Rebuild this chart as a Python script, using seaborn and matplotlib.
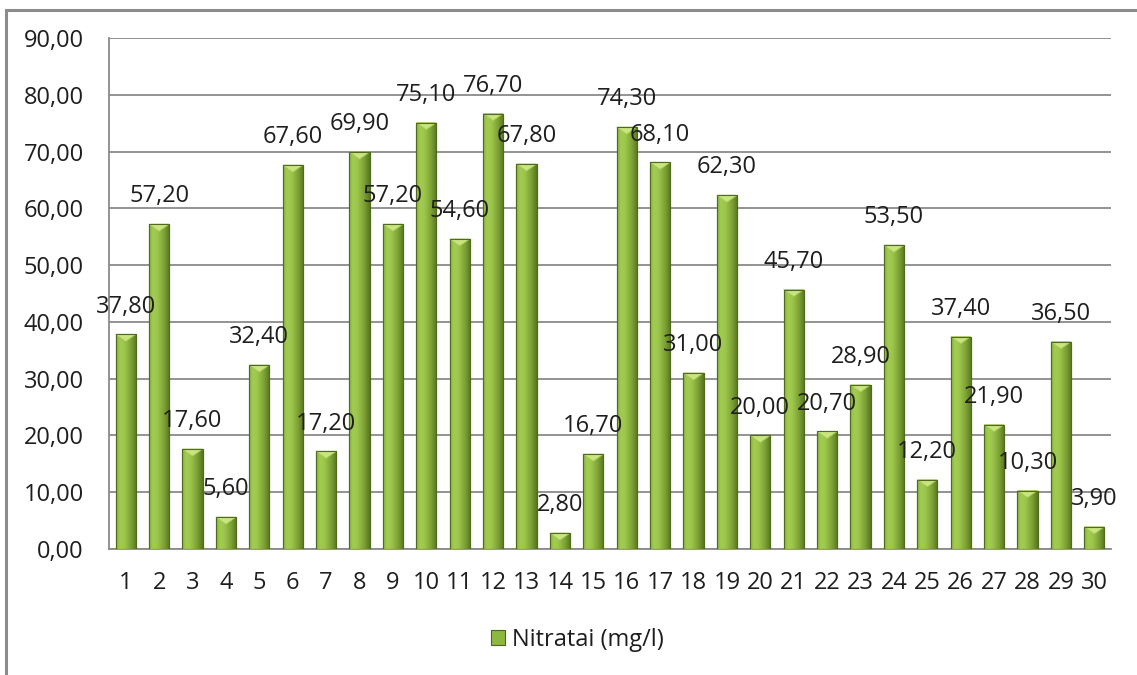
import numpy as np
import pandas as pd
import seaborn as sns
import matplotlib
matplotlib.use("Agg")
import matplotlib.pyplot as plt
from matplotlib.colors import LinearSegmentedColormap
from matplotlib.patches import Rectangle, Polygon
from matplotlib.ticker import FuncFormatter, MultipleLocator

# Sample numbers and measured nitrate concentrations
samples = [str(i) for i in range(1, 31)]
nitrates = [37.8, 57.2, 17.6, 5.6, 32.4, 67.6, 17.2, 69.9, 57.2, 75.1,
            54.6, 76.7, 67.8, 2.8, 16.7, 74.3, 68.1, 31.0, 62.3, 20.0,
            45.7, 20.7, 28.9, 53.5, 12.2, 37.4, 21.9, 10.3, 36.5, 3.9]
series_name = "Nitratai (mg/l)"
y_ticks = list(range(0, 91, 10))

df = pd.DataFrame({"sample": samples, "value": nitrates})

sns.set_theme(style="white")
plt.rcParams["font.family"] = ["Open Sans", "DejaVu Sans"]
text_color = "#1e1e1e"
grid_color = "#8a8a8a"

fig = plt.figure(figsize=(11.37, 6.75), dpi=100)
ax = fig.add_axes([109 / 1137, 1 - 549 / 675, 1002 / 1137, 511 / 675])

sns.barplot(data=df, x="sample", y="value", color="#8DB83F", width=0.6,
            saturation=1, edgecolor="#4F6228", linewidth=0.8, ax=ax, zorder=3)

# Bevelled gradient fill for each bar
bar_cmap = LinearSegmentedColormap.from_list(
    "bevel", [(0.0, "#86AE3A"), (0.18, "#A3CD52"), (0.4, "#9DC64C"),
              (0.75, "#7A9E33"), (1.0, "#56761F")])
grad = np.linspace(0, 1, 64)[None, :]
px_per_unit = 511 / 90.0
cap_h = 7 / px_per_unit
for patch in list(ax.patches):
    x0 = patch.get_x()
    w = patch.get_width()
    h = patch.get_height()
    im = ax.imshow(grad, extent=[x0, x0 + w, 0, h], aspect="auto",
                   cmap=bar_cmap, zorder=3.5, interpolation="bicubic")
    im.set_clip_path(patch)
    ch = min(cap_h, h)
    cap = Polygon([[x0, h], [x0 + w, h], [x0 + w / 2, h - ch]], closed=True,
                  facecolor="#C9E57E", edgecolor="#A9CC5A", linewidth=0.6,
                  zorder=3.7)
    ax.add_patch(cap)
    edge = Rectangle((x0, 0), w, h, fill=False, edgecolor="#506A22",
                     linewidth=0.8, zorder=3.8)
    ax.add_patch(edge)

# Value labels above the bars
for i, v in enumerate(nitrates):
    ax.annotate(f"{v:.2f}".replace(".", ","), xy=(i, v), xytext=(0, 20),
                textcoords="offset points", ha="center", va="center",
                fontsize=17, color=text_color, zorder=5)

ax.set_xlim(-0.5, len(samples) - 0.5)
ax.set_ylim(0, 90)
ax.yaxis.set_major_locator(MultipleLocator(10))
ax.yaxis.set_major_formatter(FuncFormatter(lambda v, p: f"{v:.2f}".replace(".", ",")))
ax.grid(axis="y", color=grid_color, linewidth=1.3, zorder=0)
ax.set_axisbelow(True)
for side in ["top", "right"]:
    ax.spines[side].set_visible(False)
ax.spines["left"].set_color(grid_color)
ax.spines["left"].set_linewidth(1.3)
ax.spines["bottom"].set_color(grid_color)
ax.spines["bottom"].set_linewidth(1.3)
ax.tick_params(axis="y", length=0, pad=18, labelsize=17, labelcolor=text_color)
ax.tick_params(axis="x", length=0, pad=16, labelsize=17, labelcolor=text_color)
ax.set_xlabel("")
ax.set_ylabel("")

handle = Rectangle((0, 0), 1, 1, facecolor="#8DB83F", edgecolor="#4F6228",
                   linewidth=0.8)
fig.legend([handle], [series_name], loc="center", bbox_to_anchor=(577 / 1137, 1 - 640 / 675),
           frameon=False, fontsize=17, handlelength=0.6, handleheight=0.6,
           handletextpad=0.3, labelcolor=text_color)

# Outer chart frame
fig.add_artist(Rectangle((5.5 / 1137, -0.2), 2.0, 1.2 - 9.5 / 675,
                         transform=fig.transFigure, fill=False,
                         edgecolor="#8c8c8c", linewidth=2.2))

fig.savefig("out.png", dpi=100)
